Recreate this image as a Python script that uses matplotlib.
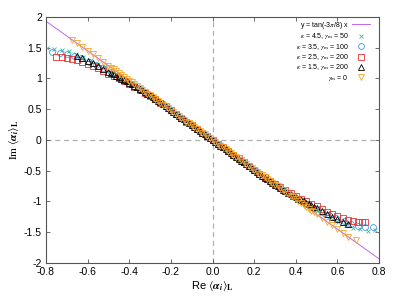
import numpy as np
import matplotlib.pyplot as plt
from matplotlib.ticker import FuncFormatter

plt.rcParams['font.family'] = ['Liberation Sans', 'DejaVu Sans']
plt.rcParams['mathtext.fontset'] = 'stix'
plt.rcParams['axes.unicode_minus'] = False

# reference line slope: y = tan(-3 pi / 8) x
line_x = [-0.8, 0.8]
line_slope = np.tan(-3 * np.pi / 8)

# kappa = 4.5, gamma_m = 50
cyan_x = [-0.795, -0.76, -0.725, -0.69, -0.655, -0.62, -0.585, -0.55, -0.515, -0.48, -0.445, -0.41,
          -0.375, -0.34, -0.305, -0.27, -0.235, -0.20, -0.165, -0.13, -0.095, -0.06, -0.025,
          0.01, 0.045, 0.08, 0.115, 0.15, 0.185, 0.22, 0.255, 0.29, 0.325, 0.36, 0.395, 0.43,
          0.465, 0.50, 0.535, 0.57, 0.605, 0.64, 0.675, 0.71, 0.745, 0.78]
cyan_y = [1.49, 1.483, 1.465, 1.44, 1.40, 1.35, 1.30, 1.24, 1.18, 1.11, 1.04, 0.97,
          0.89, 0.81, 0.73, 0.65, 0.565, 0.48, 0.395, 0.31, 0.23, 0.145, 0.06,
          -0.025, -0.11, -0.19, -0.275, -0.36, -0.445, -0.53, -0.615, -0.695, -0.775, -0.86, -0.935, -1.01,
          -1.08, -1.15, -1.215, -1.275, -1.33, -1.38, -1.425, -1.455, -1.475, -1.46]

# kappa = 3.5, gamma_m = 100
blue_x = [-0.77, -0.735, -0.70, -0.665, -0.63, -0.595, -0.56, -0.525, -0.49, -0.455, -0.42, -0.385,
          -0.35, -0.315, -0.28, -0.245, -0.21, -0.175, -0.14, -0.105, -0.07, -0.035, 0.0,
          0.035, 0.07, 0.105, 0.14, 0.175, 0.21, 0.245, 0.28, 0.315, 0.35, 0.385, 0.42,
          0.455, 0.49, 0.525, 0.56, 0.595, 0.63, 0.665, 0.70, 0.735, 0.77]
blue_y = [1.43, 1.415, 1.395, 1.365, 1.325, 1.275, 1.225, 1.165, 1.10, 1.04, 0.975, 0.905,
          0.83, 0.755, 0.675, 0.595, 0.51, 0.425, 0.34, 0.255, 0.17, 0.085, 0.0,
          -0.085, -0.17, -0.255, -0.34, -0.425, -0.51, -0.595, -0.675, -0.755, -0.83, -0.905, -0.975,
          -1.04, -1.10, -1.165, -1.225, -1.275, -1.325, -1.365, -1.395, -1.41, -1.41]

# kappa = 2.5, gamma_m = 200
red_x = [-0.75, -0.725, -0.70, -0.675, -0.65, -0.625, -0.60, -0.575, -0.55, -0.525, -0.50, -0.475,
         -0.45, -0.425, -0.40, -0.375, -0.35, -0.325, -0.30, -0.275, -0.25, -0.225, -0.20, -0.175,
         -0.15, -0.125, -0.10, -0.075, -0.05, -0.025, 0.0, 0.025, 0.05, 0.075, 0.10, 0.125,
         0.15, 0.175, 0.20, 0.225, 0.25, 0.275, 0.30, 0.325, 0.35, 0.375, 0.40, 0.425,
         0.45, 0.475, 0.50, 0.525, 0.55, 0.575, 0.60, 0.625, 0.65, 0.675, 0.70, 0.718, 0.734]
red_y = [1.355, 1.345, 1.335, 1.32, 1.30, 1.275, 1.24, 1.205, 1.165, 1.125, 1.08, 1.04,
         1.0, 0.955, 0.91, 0.865, 0.815, 0.765, 0.715, 0.66, 0.60, 0.545, 0.485, 0.425,
         0.365, 0.30, 0.24, 0.18, 0.12, 0.06, 0.0, -0.06, -0.12, -0.18, -0.24, -0.30,
         -0.365, -0.425, -0.485, -0.545, -0.60, -0.66, -0.715, -0.765, -0.815, -0.865, -0.91, -0.955,
         -1.0, -1.04, -1.08, -1.125, -1.165, -1.205, -1.24, -1.27, -1.30, -1.32, -1.33, -1.33, -1.335]

# kappa = 1.5, gamma_m = 200
black_x = [-0.65, -0.625, -0.60, -0.575, -0.55, -0.525, -0.50, -0.4875, -0.475, -0.4625, -0.45, -0.4375,
           -0.425, -0.4125, -0.40, -0.3875, -0.375, -0.3625, -0.35, -0.3375, -0.325, -0.3125, -0.30,
           -0.2875, -0.275, -0.2625, -0.25, -0.2375, -0.225, -0.2125, -0.20, -0.1875, -0.175, -0.1625,
           -0.15, -0.1375, -0.125, -0.1125, -0.10, -0.0875, -0.075, -0.0625, -0.05, -0.0375, -0.025,
           -0.0125, 0.0, 0.0125, 0.025, 0.0375, 0.05, 0.0625, 0.075, 0.0875, 0.10, 0.1125, 0.125,
           0.1375, 0.15, 0.1625, 0.175, 0.1875, 0.20, 0.2125, 0.225, 0.2375, 0.25, 0.2625, 0.275,
           0.2875, 0.30, 0.3125, 0.325, 0.3375, 0.35, 0.3625, 0.375, 0.3875, 0.40, 0.4125, 0.425,
           0.4375, 0.45, 0.4625, 0.475, 0.4875, 0.50, 0.525, 0.55, 0.575, 0.60, 0.625, 0.65]
black_y = [1.37, 1.33, 1.29, 1.245, 1.20, 1.155, 1.11, 1.0875, 1.065, 1.0425, 1.02, 0.9975,
           0.975, 0.9525, 0.93, 0.905, 0.88, 0.855, 0.83, 0.805, 0.78, 0.7525, 0.725,
           0.6975, 0.67, 0.64, 0.61, 0.58, 0.55, 0.52, 0.49, 0.46, 0.43, 0.3975,
           0.365, 0.335, 0.305, 0.275, 0.245, 0.2125, 0.18, 0.15, 0.12, 0.09, 0.06,
           0.03, 0.0, -0.03, -0.06, -0.09, -0.12, -0.15, -0.18, -0.2125, -0.245, -0.275, -0.305,
           -0.335, -0.365, -0.3975, -0.43, -0.46, -0.49, -0.52, -0.55, -0.58, -0.61, -0.64, -0.67,
           -0.6975, -0.725, -0.7525, -0.78, -0.805, -0.83, -0.855, -0.88, -0.905, -0.93, -0.9525, -0.975,
           -0.9975, -1.02, -1.0425, -1.065, -1.0875, -1.11, -1.155, -1.20, -1.245, -1.29, -1.33, -1.37]

# gamma_m = 0
yellow_x = [-0.675, -0.65, -0.625, -0.60, -0.575, -0.55, -0.525, -0.50, -0.4875, -0.475, -0.4625, -0.45,
            -0.4375, -0.425, -0.4125, -0.40, -0.3875, -0.375, -0.3625, -0.35, -0.3375, -0.325, -0.3125,
            -0.30, -0.2875, -0.275, -0.2625, -0.25, -0.2375, -0.225, -0.2125, -0.20, -0.1875, -0.175,
            -0.1625, -0.15, -0.1375, -0.125, -0.1125, -0.10, -0.0875, -0.075, -0.0625, -0.05, -0.0375,
            -0.025, -0.0125, 0.0, 0.0125, 0.025, 0.0375, 0.05, 0.0625, 0.075, 0.0875, 0.10, 0.1125,
            0.125, 0.1375, 0.15, 0.1625, 0.175, 0.1875, 0.20, 0.2125, 0.225, 0.2375, 0.25, 0.2625,
            0.275, 0.2875, 0.30, 0.3125, 0.325, 0.3375, 0.35, 0.3625, 0.375, 0.3875, 0.40, 0.4125,
            0.425, 0.4375, 0.45, 0.4625, 0.475, 0.4875, 0.50, 0.525, 0.55, 0.575, 0.60, 0.625, 0.65, 0.69]
yellow_y = [1.63, 1.57, 1.51, 1.45, 1.39, 1.33, 1.27, 1.21, 1.177, 1.15, 1.117, 1.09,
            1.056, 1.03, 0.996, 0.965, 0.935, 0.905, 0.875, 0.845, 0.815, 0.785, 0.754,
            0.725, 0.694, 0.665, 0.634, 0.605, 0.573, 0.545, 0.513, 0.485, 0.453, 0.425,
            0.392, 0.36, 0.332, 0.30, 0.272, 0.24, 0.211, 0.18, 0.151, 0.12, 0.091,
            0.06, 0.03, 0.0, -0.03, -0.06, -0.091, -0.12, -0.151, -0.18, -0.211, -0.24, -0.272,
            -0.30, -0.332, -0.36, -0.392, -0.425, -0.453, -0.485, -0.513, -0.545, -0.573, -0.605, -0.634,
            -0.665, -0.694, -0.725, -0.754, -0.785, -0.815, -0.845, -0.875, -0.905, -0.935, -0.965, -0.996,
            -1.03, -1.056, -1.09, -1.117, -1.15, -1.177, -1.21, -1.27, -1.33, -1.39, -1.45, -1.51, -1.57, -1.63]

fig = plt.figure(figsize=(3.95, 3.03), dpi=100)
ax = fig.add_axes([0.1165, 0.132, 0.843, 0.812])

ax.axhline(0, color='#b0b0b0', lw=0.9, ls=(0, (4, 3)), zorder=0)
ax.axvline(0, color='#b0b0b0', lw=0.9, ls=(0, (4, 3)), zorder=0)

ax.plot(line_x, [line_slope * v for v in line_x], color='#c266f5', lw=0.7,
        label=r'y = tan(-3$\pi$/8) x')
ax.plot(cyan_x, cyan_y, ls='none', marker='x', ms=3.5, mew=0.6, color='#3cbfa8',
        label=r'$\kappa$ = 4.5, $\gamma_{\rm m}$ = 50')
ax.plot(blue_x, blue_y, ls='none', marker='o', ms=4.2, mew=0.6, mfc='none', color='#3a9ad9',
        label=r'$\kappa$ = 3.5, $\gamma_{\rm m}$ = 100')
ax.plot(red_x, red_y, ls='none', marker='s', ms=3.8, mew=0.6, mfc='none', color='#e8312f',
        label=r'$\kappa$ = 2.5, $\gamma_{\rm m}$ = 200')
ax.plot(black_x, black_y, ls='none', marker='^', ms=4, mew=0.6, mfc='none', color='black',
        label=r'$\kappa$ = 1.5, $\gamma_{\rm m}$ = 200')
ax.plot(yellow_x, yellow_y, ls='none', marker='v', ms=4.5, mew=0.6, mfc='none', color='#f5a52a',
        label=r'$\gamma_{\rm m}$ = 0')

ax.set_xlim(-0.8, 0.8)
ax.set_ylim(-2, 2)
ax.set_xticks([-0.8, -0.6, -0.4, -0.2, 0.0, 0.2, 0.4, 0.6, 0.8])
ax.set_yticks([-2, -1.5, -1, -0.5, 0, 0.5, 1, 1.5, 2])
ax.xaxis.set_major_formatter(FuncFormatter(lambda v, p: '%.1f' % v))
ax.yaxis.set_major_formatter(FuncFormatter(lambda v, p: '%g' % v))
ax.tick_params(direction='in', top=True, right=True, length=3, width=0.6,
               color='#555555', labelsize=7.5, pad=3)
for s in ax.spines.values():
    s.set_color('#555555')
    s.set_linewidth(0.8)

ax.set_xlabel(r'Re $\langle \boldsymbol{\alpha}_{\boldsymbol{i}} \rangle_{\mathbf{L}}$', fontsize=8, labelpad=2)
ax.set_ylabel(r'$\mathrm{Im}\ \langle \boldsymbol{\alpha}_{\boldsymbol{i}} \rangle_{\mathbf{L}}$', fontsize=8, labelpad=2)

ax.legend(loc='upper right', bbox_to_anchor=(0.985, 1.005), frameon=False, markerfirst=False,
          fontsize=5, handlelength=2.6, handletextpad=0.4, labelspacing=0.05, borderpad=0.1)

fig.savefig('out.png', dpi=100)
